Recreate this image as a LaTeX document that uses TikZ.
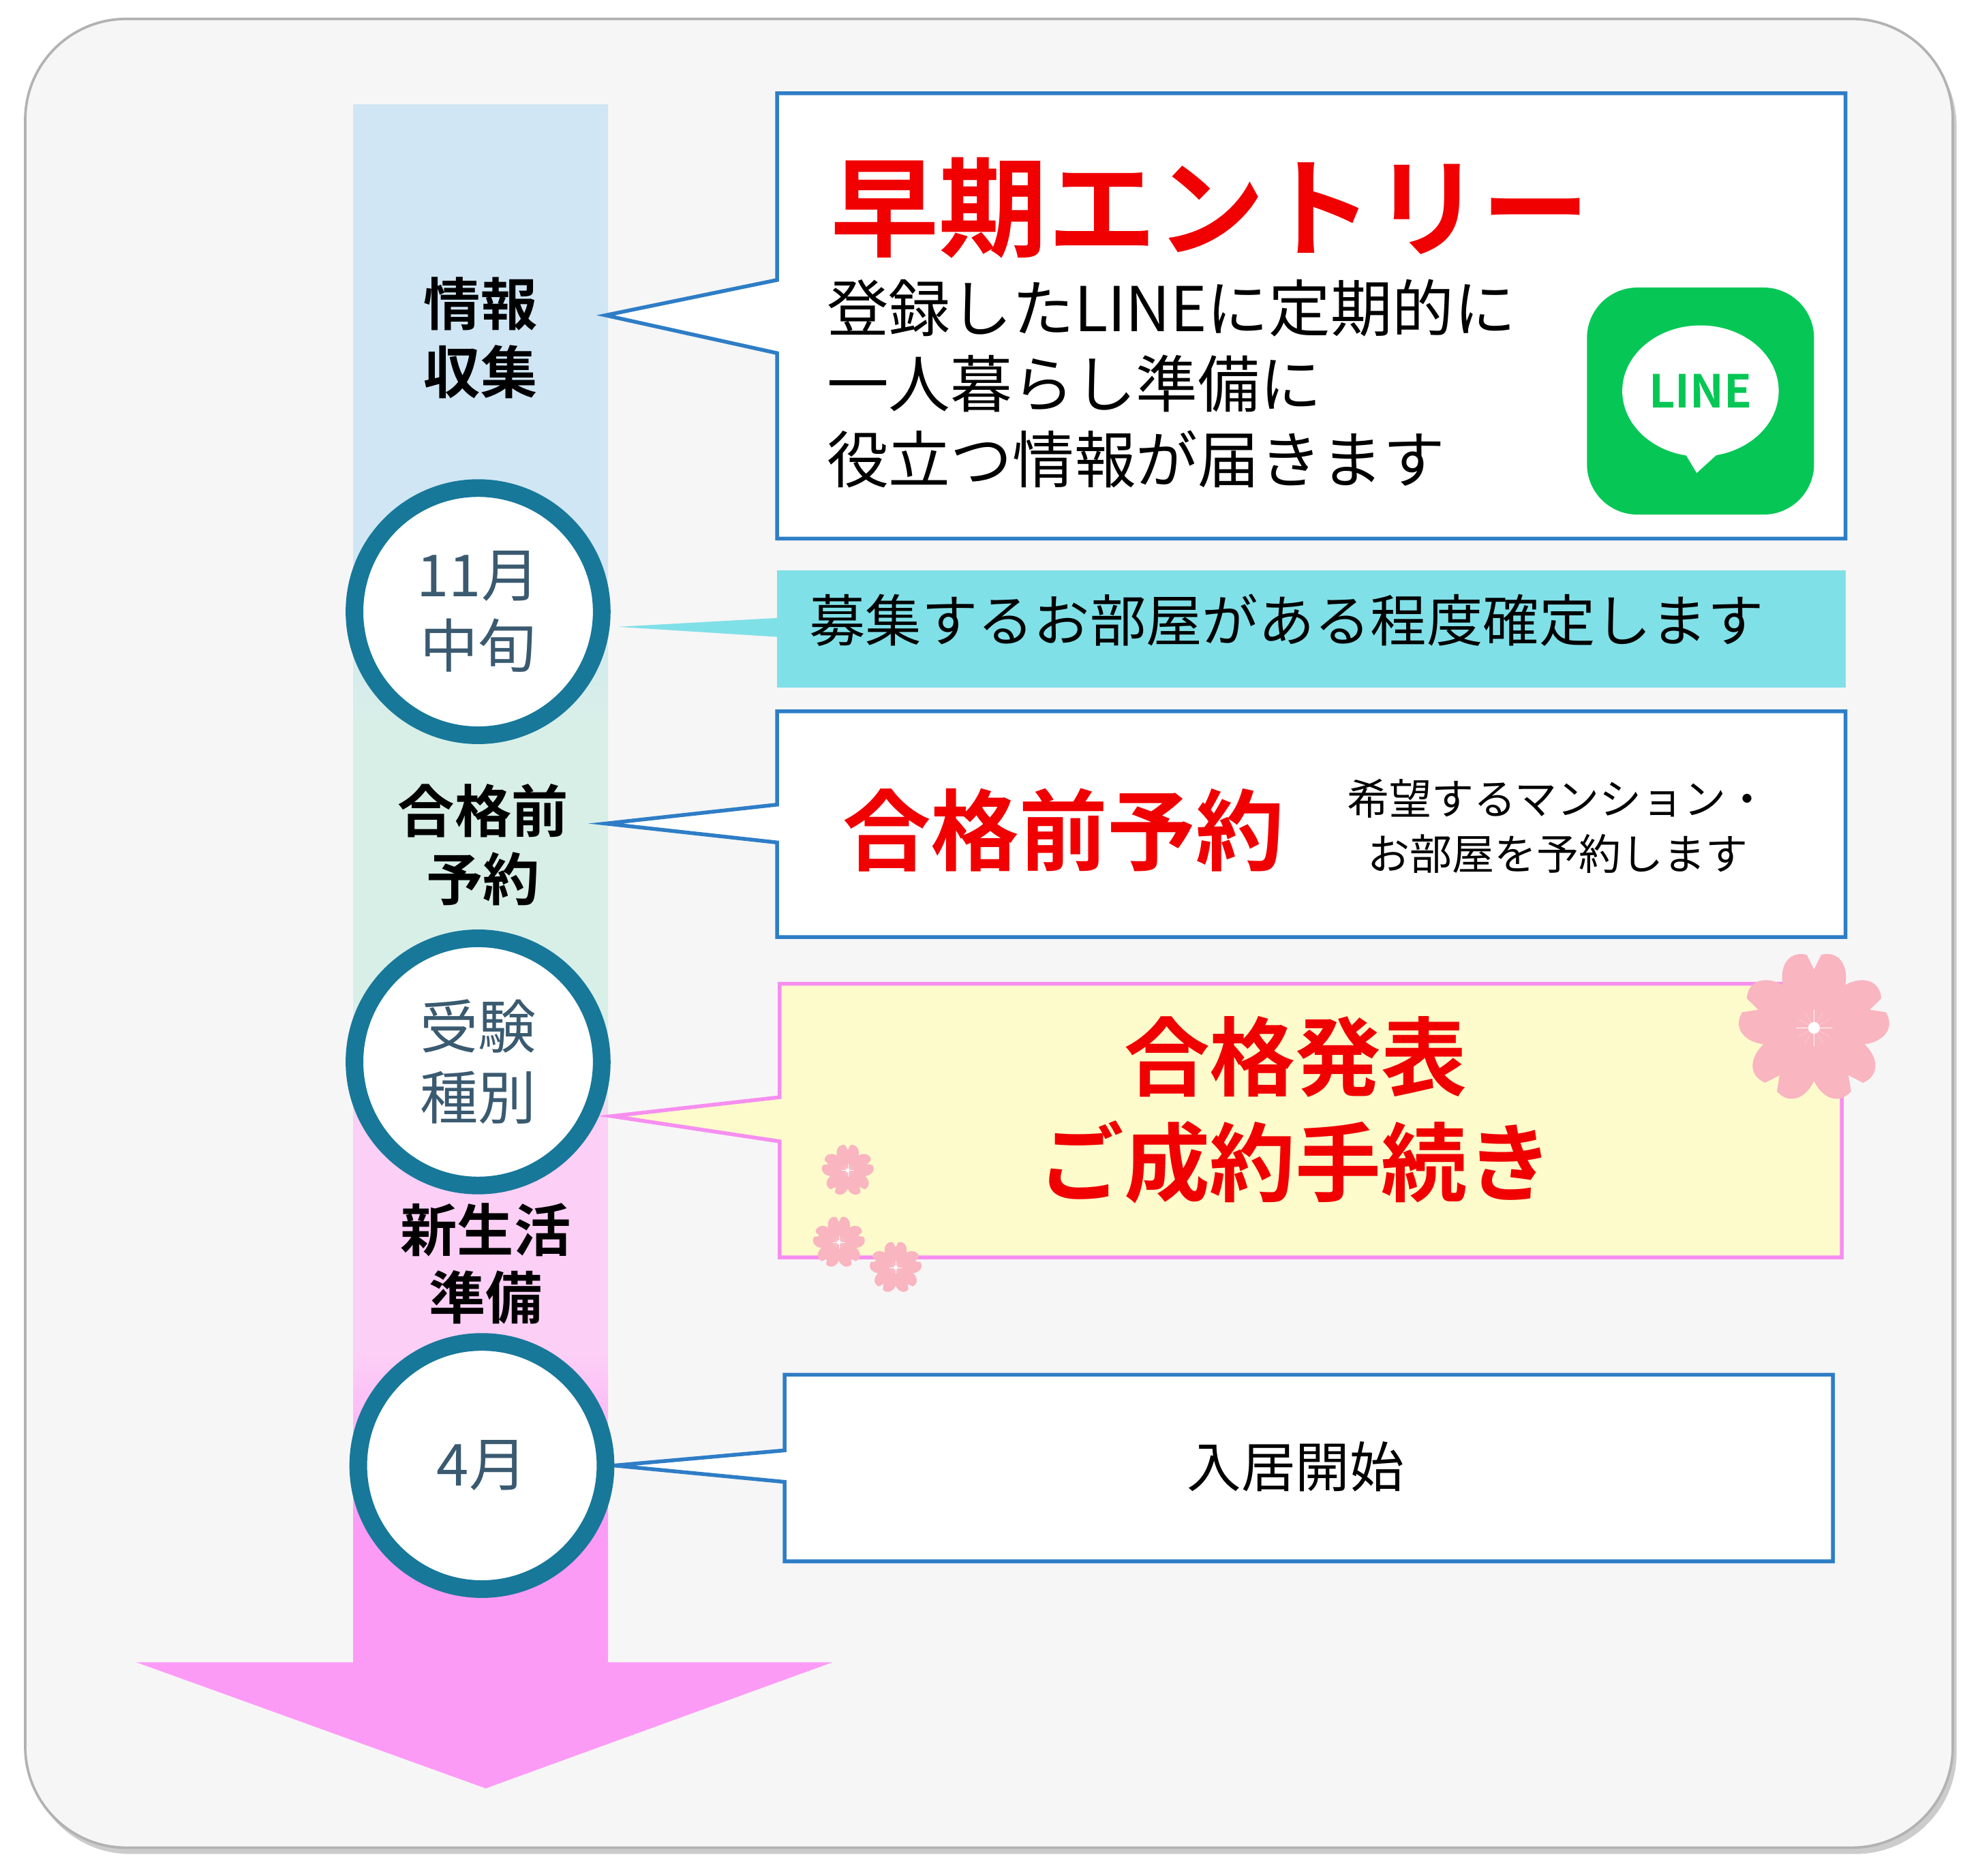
\documentclass[tikz,border=0pt]{standalone}
\usepackage{fontspec}
\setmainfont{Noto Sans CJK JP}
\newfontfamily\jpb{Noto Sans CJK JP Bold}
\usetikzlibrary{shadows}
\definecolor{bluebd}{HTML}{2E7DC6}
\definecolor{ringc}{HTML}{17789A}
\definecolor{ringt}{HTML}{3A5A70}
\definecolor{redt}{HTML}{F00000}
\definecolor{cyanf}{HTML}{80E0E8}
\definecolor{yelf}{HTML}{FDFBCC}
\definecolor{pinkbd}{HTML}{F68EF0}
\definecolor{sak}{HTML}{F9B5C0}
\definecolor{lineg}{HTML}{06C755}
\definecolor{gpink}{HTML}{FC9BF6}
\definecolor{gpinkl}{HTML}{FCCFF6}
\definecolor{ggreen}{HTML}{D8EFE8}
\definecolor{gblue}{HTML}{D0E6F4}
\pgfdeclareverticalshading{barshade}{100bp}{
 color(0bp)=(gpink); color(29.5bp)=(gpink); color(35bp)=(gpinkl);
 color(42.5bp)=(gpinkl); color(43.5bp)=(ggreen); color(55bp)=(ggreen);
 color(60bp)=(gblue); color(100bp)=(gblue)}
\tikzset{
 ring/.style={circle,draw=ringc,line width=14pt,fill=white,minimum size=196pt,text=ringt,align=center,font=\fontsize{46}{56}\selectfont},
 barlabel/.style={align=center,font=\jpb\fontsize{45}{54}\selectfont},
 callout/.style={draw=bluebd,line width=3pt,fill=white},
 sakura/.pic={\foreach \a in {90,162,234,306,18}{
     \fill[sak,rotate=\a] (0,0) .. controls (0.35,-0.58) and (1.1,-0.55) .. (1,-0.1) -- (0.8,0) -- (1,0.1) .. controls (1.1,0.55) and (0.35,0.58) .. (0,0) -- cycle;}
   \foreach \a in {0,30,...,330}{\draw[white,line width=0.04,line cap=round] (0,0) -- (\a:0.25);}
   \fill[white] (0,0) circle (0.08);}
}
\begin{document}
\begin{tikzpicture}[x=1pt,y=-1pt]
\useasboundingbox (0,0) rectangle (1568,1487);
\fill[white] (0,0) rectangle (1568,1487);
\draw[draw=gray!60,line width=2pt,fill=gray!7,rounded corners=80pt,drop shadow={shadow xshift=3pt,shadow yshift=-5pt,opacity=0.4}] (20,15) rectangle (1548,1465);
% bar + arrow
\shade[shading=barshade] (280,83) rectangle (482,1320);
\fill[gpink] (108,1318) -- (660,1318) -- (385,1418) -- cycle;
\node[barlabel] (l1) at (381,268) {情報\\収集};
\node[barlabel] (l2) at (383,670) {合格前\\予約};
\node[barlabel] (l3) at (385,1002) {新生活\\準備};
% box1
\draw[callout] (616,74) -- (1463,74) -- (1463,427) -- (616,427) -- (616,280) -- (480,250) -- (616,222) -- cycle;
\node[anchor=west,text=redt,font=\jpb\fontsize{86}{96}\selectfont] (t1) at (655,165) {早期エントリー};
\node[anchor=north west,align=left,font=\fontsize{49}{60}\selectfont] (d1) at (652,218) {登録したLINEに定期的に\\一人暮らし準備に\\役立つ情報が届きます};
\fill[lineg,rounded corners=40pt] (1258,228) rectangle (1438,408);
\fill[white] (1348,310) ellipse (62 and 52);
\fill[white] (1330,350) -- (1378,345) -- (1345,375) -- cycle;
\node[text=lineg,font=\jpb\fontsize{36}{40}\selectfont] (lg) at (1348,310) {LINE};
% box2
\fill[cyanf] (616,452) rectangle (1463,545);
\fill[cyanf] (616,490) -- (490,497) -- (616,505) -- cycle;
\node[anchor=west,font=\fontsize{44.5}{50}\selectfont] (t2) at (638,492) {募集するお部屋がある程度確定します};
% box3
\draw[callout] (616,564) -- (1463,564) -- (1463,743) -- (616,743) -- (616,668) -- (480,653) -- (616,638) -- cycle;
\node[text=redt,font=\jpb\fontsize{70}{80}\selectfont] (t3) at (843,658) {合格前予約};
\node[align=center,font=\fontsize{33.5}{44}\selectfont] (d3) at (1235,655) {希望するマンション・\\お部屋を予約します};
% box4
\draw[draw=pinkbd,line width=3pt,fill=yelf] (618,780) -- (1460,780) -- (1460,997) -- (618,997) -- (618,905) -- (485,885) -- (618,870) -- cycle;
\node[align=center,text=redt,font=\jpb\fontsize{68}{84}\selectfont] (t4) at (1027,880) {合格発表\\ご成約手続き};
\pic[scale=58] at (1438,815) {sakura};
\pic[scale=20] at (672,928) {sakura};
\pic[scale=20] at (665,985) {sakura};
\pic[scale=20] at (710,1005) {sakura};
% box5
\draw[callout] (622,1090) -- (1453,1090) -- (1453,1238) -- (622,1238) -- (622,1175) -- (487,1162) -- (622,1150) -- cycle;
\node[font=\fontsize{43}{50}\selectfont] (t5) at (1027,1163) {入居開始};
% rings
\node[ring] (c1) at (379,485) {11月\\中旬};
\node[ring] (c2) at (379,842) {受験\\種別};
\node[ring] (c3) at (382,1162) {4月};
\end{tikzpicture}
\end{document}
